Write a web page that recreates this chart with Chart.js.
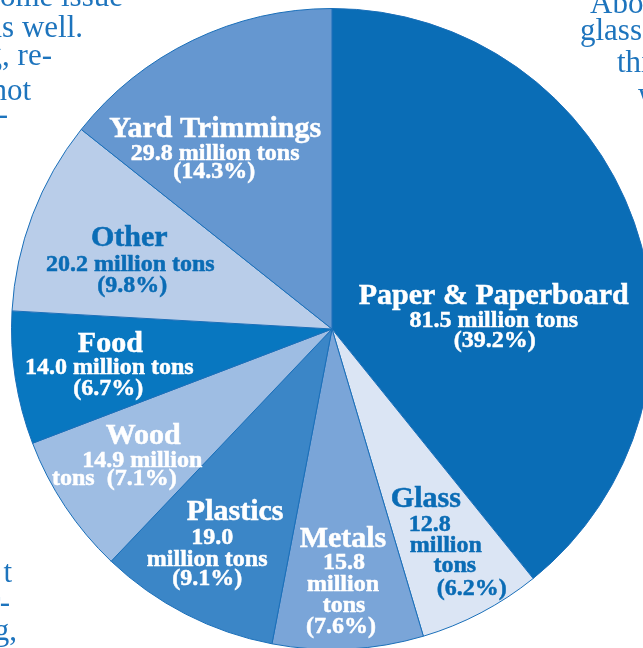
<!DOCTYPE html>
<html>
<head>
<meta charset="utf-8">
<script src="https://cdn.jsdelivr.net/npm/chart.js@4/dist/chart.umd.min.js"></script>
<style>
  html, body { margin: 0; padding: 0; background: #fff; overflow: hidden; }
  #wrap { position: absolute; left: 0; top: 0; width: 664px; height: 660px; }
</style>
</head>
<body>
<div id="wrap"><canvas id="wasteChart"></canvas></div>
<script>
// slices, clockwise from 12 o'clock
const categories = ['Paper & Paperboard', 'Glass', 'Metals', 'Plastics', 'Wood', 'Food', 'Other', 'Yard Trimmings'];
const tons = ['81.5', '12.8', '15.8', '19.0', '14.9', '14.0', '20.2', '29.8'];
const percents = [39.2, 6.2, 7.6, 9.1, 7.1, 6.7, 9.8, 14.3];
const sliceColors = ['#0a6db6', '#dbe5f4', '#7aa5d8', '#3b86c7', '#9ebde3', '#0877c0', '#b9cde9', '#6597d0'];

// how each label is broken into lines ({n} name, {t} tons, {p} percent)
// offsets are from the pie centre, in px at radius 321
const labelLayout = [
  { color: '#fff', lines: [['{n}', 162, -25], ['{t} million tons', 162, -2], ['({p}%)', 163, 18]] },
  { color: '#0a6cb5', lines: [['{n}', 94, 178], ['{t}', 98, 202], ['million', 114, 223], ['tons', 123, 243], ['({p}%)', 140, 266]] },
  { color: '#fff', lines: [['{n}', 11, 218], ['{t}', 12, 240], ['million', 11, 262], ['tons', 12, 283], ['({p}%)', 9, 304]] },
  { color: '#fff', lines: [['{n}', -97, 191], ['{t}', -120, 215], ['million tons', -125, 237], ['({p}%)', -125, 256]] },
  { color: '#fff', lines: [['{n}', -189, 115], ['{t} million', -190, 138], ['tons  ({p}%)', -218, 156]] },
  { color: '#fff', lines: [['{n}', -222, 23], ['{t} million tons', -223, 45], ['({p}%)', -224, 66]] },
  { color: '#0a6cb5', lines: [['{n}', -203, -83], ['{t} million tons', -202, -58], ['({p}%)', -200, -37]] },
  { color: '#fff', lines: [['{n}', -117, -192], ['{t} million tons', -117, -169], ['({p}%)', -118, -151]] }
];

// bits of the surrounding article text that show round the pie
const sideText = [
  ['ome issue', 123, 6, 'right'], ['as well.', 83, 37, 'right'], ['g, re-', 52, 65, 'right'],
  ['not', 31, 100, 'right'], ['-', 8, 124, 'right'],
  ['About', 590, 13, 'left'], ['glass', 580, 40, 'left'], ['this', 617, 72, 'left'], ['w', 638, 104, 'left'],
  ['t', 12, 582, 'right'], ['r-', 10, 612, 'right'], ['g,', 17, 640, 'right']
];

const sideTextPlugin = {
  id: 'sideText',
  beforeDraw(chart) {
    const ctx = chart.ctx;
    ctx.save();
    ctx.font = '31px "Liberation Serif", serif';
    ctx.fillStyle = '#1d74bd';
    ctx.textBaseline = 'alphabetic';
    sideText.forEach(([txt, x, y, align]) => {
      ctx.textAlign = align;
      ctx.fillText(txt, x, y);
    });
    ctx.restore();
  }
};

const sliceLabelPlugin = {
  id: 'sliceLabels',
  afterDatasetsDraw(chart) {
    const ctx = chart.ctx;
    const arcs = chart.getDatasetMeta(0).data;
    ctx.save();
    ctx.textAlign = 'center';
    ctx.textBaseline = 'alphabetic';
    arcs.forEach((arc, i) => {
      const { x, y, outerRadius } = arc.getProps(['x', 'y', 'outerRadius'], true);
      const k = outerRadius / 321;
      const layout = labelLayout[i];
      ctx.fillStyle = layout.color;
      ctx.strokeStyle = layout.color;
      ctx.lineWidth = 0.5;
      layout.lines.forEach(([tpl, dx, dy], li) => {
        const txt = tpl.replace('{n}', categories[i]).replace('{t}', tons[i]).replace('{p}', percents[i].toFixed(1));
        ctx.font = li === 0 ? 'bold 30px "Liberation Serif", serif' : 'bold 24px "Liberation Serif", serif';
        ctx.fillText(txt, x + dx * k, y + dy * k);
        // a touch heavier, like the print face
        ctx.strokeText(txt, x + dx * k, y + dy * k);
      });
    });
    ctx.restore();
  }
};

new Chart(document.getElementById('wasteChart'), {
  type: 'pie',
  data: {
    labels: categories,
    datasets: [{
      data: percents,
      backgroundColor: sliceColors,
      borderColor: '#1a6fb9',
      borderWidth: 1
    }]
  },
  options: {
    responsive: true,
    maintainAspectRatio: false,
    animation: false,
    layout: { padding: { left: 11, top: 8, right: 11, bottom: 10 } },
    plugins: {
      legend: { display: false },
      tooltip: { enabled: false }
    }
  },
  plugins: [sideTextPlugin, sliceLabelPlugin]
});
</script>
</body>
</html>
